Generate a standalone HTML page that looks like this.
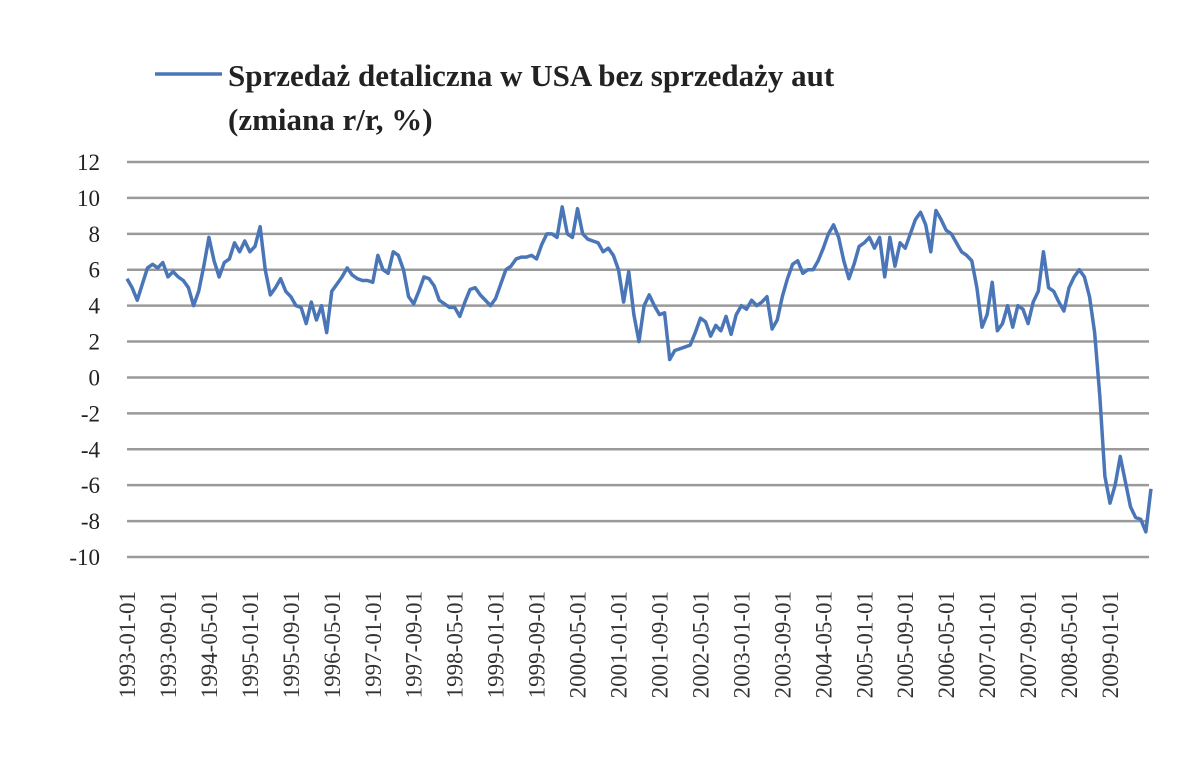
<!DOCTYPE html>
<html><head><meta charset="utf-8"><style>
body{margin:0;background:#fff;}
svg{display:block;font-family:"Liberation Serif",serif;}
</style></head><body>
<svg width="1200" height="759">
<g>
<line x1="155" y1="74" x2="222" y2="74" stroke="#4a76b8" stroke-width="3.5"/>
<text x="228" y="86" font-size="31" font-weight="bold" fill="#222">Sprzedaż detaliczna w USA bez sprzedaży aut</text>
<text x="228" y="130" font-size="31" font-weight="bold" fill="#222">(zmiana r/r, %)</text>
</g>
<g id="grid"></g><g id="yt"></g><g id="xt"></g><g id="ln"></g>
</svg>
<script>
const yTicks=[12,10,8,6,4,2,0,-2,-4,-6,-8,-10];
const startYear=1993;
const lastLabelIndex=192;
const values=[
5.5,5.0,4.3,5.2,6.1,6.3,6.1,6.4,5.6,5.9,5.6,5.4,
5.0,4.0,4.8,6.2,7.8,6.5,5.6,6.4,6.6,7.5,7.0,7.6,
7.0,7.3,8.4,6.0,4.6,5.0,5.5,4.8,4.5,4.0,3.9,3.0,
4.2,3.2,4.0,2.5,4.8,5.2,5.6,6.1,5.7,5.5,5.4,5.4,
5.3,6.8,6.0,5.8,7.0,6.8,6.0,4.5,4.1,4.8,5.6,5.5,
5.1,4.3,4.1,3.9,3.9,3.4,4.2,4.9,5.0,4.6,4.3,4.0,
4.4,5.2,6.0,6.2,6.6,6.7,6.7,6.8,6.6,7.4,8.0,8.0,
7.8,9.5,8.0,7.8,9.4,8.0,7.7,7.6,7.5,7.0,7.2,6.8,
6.0,4.2,5.9,3.5,2.0,4.0,4.6,4.0,3.5,3.6,1.0,1.5,
1.6,1.7,1.8,2.5,3.3,3.1,2.3,2.9,2.6,3.4,2.4,3.5,
4.0,3.8,4.3,4.0,4.2,4.5,2.7,3.2,4.5,5.5,6.3,6.5,
5.8,6.0,6.0,6.5,7.2,8.0,8.5,7.8,6.5,5.5,6.3,7.3,
7.5,7.8,7.2,7.8,5.6,7.8,6.2,7.5,7.2,8.0,8.8,9.2,
8.5,7.0,9.3,8.8,8.2,8.0,7.5,7.0,6.8,6.5,5.0,2.8,
3.5,5.3,2.6,3.0,4.0,2.8,4.0,3.8,3.0,4.2,4.8,7.0,
5.0,4.8,4.2,3.7,5.0,5.6,6.0,5.6,4.5,2.5,
-1.0,-5.5,-7.0,-6.0,-4.4,-5.8,-7.2,-7.8,-7.9,-8.6,-6.2];
const X0=127,XL=1110,YT=162,YB=557;
const x=i=>X0+i*(XL-X0)/lastLabelIndex;
const y=v=>YT+(12-v)*(YB-YT)/22;
const NS="http://www.w3.org/2000/svg";
const mk=(t,a,p)=>{const e=document.createElementNS(NS,t);for(const k in a)e.setAttribute(k,a[k]);p.appendChild(e);return e;};
const grid=document.getElementById('grid'),yt=document.getElementById('yt'),xt=document.getElementById('xt'),ln=document.getElementById('ln');
yTicks.forEach(v=>{
const l=mk('line',{x1:X0,x2:1149,y1:y(v),y2:y(v),stroke:'#9a9a9a','stroke-width':2.5},grid);


const t=mk('text',{x:100,y:y(v)+8,'font-size':23,'text-anchor':'end',fill:'#222'},yt);
t.textContent=v;


});
for(let i=0;i<=lastLabelIndex;i+=8){
const yr=startYear+Math.floor(i/12),m=i%12+1;
const lab=yr+'-'+String(m).padStart(2,'0')+'-01';
const t=mk('text',{x:0,y:0,'font-size':23,'text-anchor':'end',fill:'#333',transform:`translate(${x(i)+8},591) rotate(-90)`},xt);
t.textContent=lab;


}
const p=mk('polyline',{points:values.map((v,i)=>x(i)+','+y(v)).join(' '),fill:'none',stroke:'#4a76b8','stroke-width':3.5,'stroke-linejoin':'round'},ln);


</script>
</body></html>
